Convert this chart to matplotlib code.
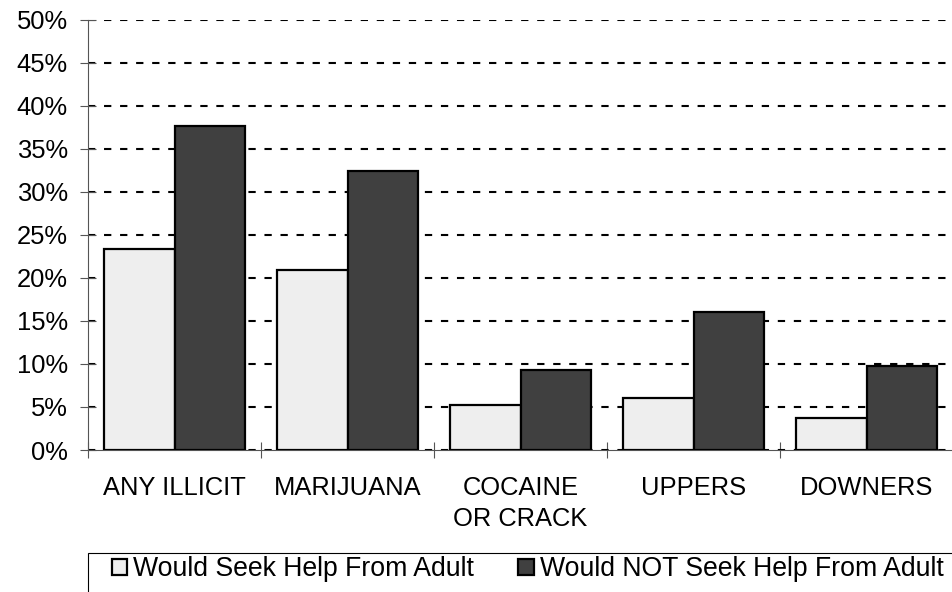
import numpy as np
import matplotlib
matplotlib.use('Agg')
import matplotlib.pyplot as plt
from matplotlib.patches import Rectangle
from matplotlib.ticker import FuncFormatter, FixedLocator

categories = ['ANY ILLICIT', 'MARIJUANA', 'COCAINE\nOR CRACK', 'UPPERS', 'DOWNERS']
seek_help = [23.4, 20.9, 5.2, 6.1, 3.7]
no_help = [37.6, 32.4, 9.3, 16.0, 9.8]
series_names = ['Would Seek Help From Adult', 'Would NOT Seek Help From Adult']

plt.rcParams['font.family'] = ['Liberation Sans', 'DejaVu Sans']
plt.rcParams['font.size'] = 18.4

W, H = 953, 592
unit = 174.75  # px per category
fig = plt.figure(figsize=(W / 100, H / 100), dpi=100)
ax = fig.add_axes([88 / W, 1 - 450 / H, 1 - 88 / W, (450 - 19.7) / H])

x = np.arange(len(categories))
bw = 71 / unit
b1 = ax.bar(x - bw / 2, seek_help, bw, color='#eeeeee', edgecolor='black',
            linewidth=1.6, zorder=3, label=series_names[0])
b2 = ax.bar(x + bw / 2, no_help, bw, color='#404040', edgecolor='black',
            linewidth=1.6, zorder=3, label=series_names[1])

ax.set_ylim(0, 50)
ax.set_xlim(-0.5, -0.5 + (W - 88) / unit)
ax.yaxis.set_major_locator(FixedLocator(np.arange(0, 51, 5)))
ax.yaxis.set_major_formatter(FuncFormatter(lambda v, p: f'{v:.0f}%'))
ax.yaxis.grid(True, color='black', linewidth=1.5, linestyle=(0, (3.5, 4.2)), zorder=0)
ax.set_axisbelow(True)

ax.set_xticks(x)
ax.set_xticklabels(categories, linespacing=1.33)
ax.set_xticks(np.arange(-0.5, len(categories) + 0.5, 1), minor=True)
ax.tick_params(axis='x', which='major', length=0, pad=19)
ax.tick_params(axis='x', which='minor', direction='inout', length=11, width=0.8, color='#555555')
ax.tick_params(axis='y', direction='inout', length=11, width=0.8, color='#555555', pad=9)

for side in ['top', 'right']:
    ax.spines[side].set_visible(False)
for side in ['left', 'bottom']:
    ax.spines[side].set_color('#555555')
    ax.spines[side].set_linewidth(0.8)

# legend frame runs off the bottom and right of the picture
fig.patches.append(Rectangle((88 / W, -0.1), 1.0, 1 - 553 / H + 0.1,
                             transform=fig.transFigure, fill=False,
                             edgecolor='black', linewidth=0.8))
fig.legend(handles=[b1, b2], loc='center left',
           bbox_to_anchor=(112 / W, 1 - 569.5 / H), ncol=2, frameon=False,
           fontsize=19.2, handlelength=0.58, handleheight=0.58,
           handletextpad=0.22, columnspacing=1.65, borderpad=0, borderaxespad=0)

fig.savefig('out.png', dpi=100)
